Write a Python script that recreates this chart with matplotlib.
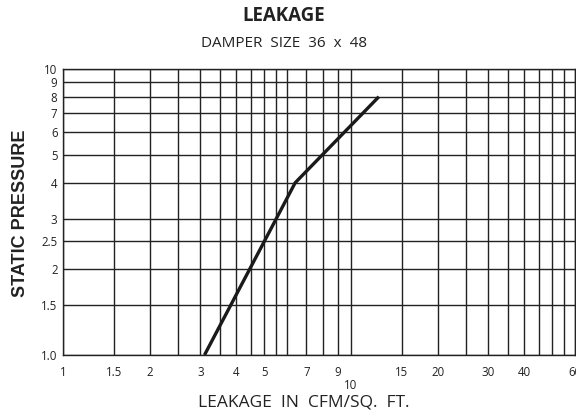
import matplotlib
matplotlib.use("Agg")
import matplotlib.pyplot as plt

# leakage curve (cfm/sq.ft vs static pressure)
leak = [3.1, 6.4, 12.5]
pressure = [1.0, 4.0, 8.0]

x_grid = [1, 1.5, 2, 2.5, 3, 3.5, 4, 4.5, 5, 5.5, 6, 7, 8, 9, 10,
          15, 20, 25, 30, 35, 40, 45, 50, 55, 60]
x_labels = {1: "1", 1.5: "1.5", 2: "2", 3: "3", 4: "4", 5: "5", 7: "7",
            9: "9", 10: "\n10", 15: "15", 20: "20", 30: "30", 40: "40", 60: "60"}
y_grid = [1, 1.5, 2, 2.5, 3, 4, 5, 6, 7, 8, 9, 10]
y_labels = ["1.0", "1.5", "2", "2.5", "3", "4", "5", "6", "7", "8", "9", "10"]

plt.rcParams['font.family'] = ['Open Sans', 'DejaVu Sans']

fig = plt.figure(figsize=(5.76, 4.11), dpi=100)
ax = fig.add_axes([0.1094, 0.1363, 0.8889, 0.6958])

ax.set_xscale("log")
ax.set_yscale("log")
ax.set_xlim(1, 60)
ax.set_ylim(1, 10)

ax.set_xticks(x_grid, labels=[x_labels.get(v, "") for v in x_grid])
ax.set_yticks(y_grid, labels=y_labels)
ax.minorticks_off()
ax.tick_params(length=0, labelsize=8.3, colors="#222222")
ax.tick_params(axis="x", pad=8)
ax.tick_params(axis="y", pad=4)
for lab in ax.get_xticklabels():
    lab.set_linespacing(0.95)
ax.grid(True, color="#222222", lw=1.0)
ax.set_axisbelow(True)
for s in ax.spines.values():
    s.set_color("#222222")
    s.set_linewidth(1.0)

ax.plot(leak, pressure, color="#1a1a1a", lw=2.4, solid_capstyle="butt")

fig.text(0.493, 0.962, "LEAKAGE", ha="center", va="center",
         fontsize=13.5, fontweight="bold", color="#222222")
fig.text(0.493, 0.895, "DAMPER  SIZE  36  x  48", ha="center", va="center",
         fontsize=11, color="#222222")
fig.text(0.035, 0.481, "STATIC PRESSURE", rotation=90, ha="center", va="center",
         fontsize=13, fontweight="bold", color="#222222",
         family=["Liberation Sans", "DejaVu Sans"])
fig.text(0.527, 0.021, "LEAKAGE  IN  CFM/SQ.  FT.", ha="center", va="center",
         fontsize=12.5, color="#222222")

fig.savefig("out.png", dpi=100, facecolor="white")
